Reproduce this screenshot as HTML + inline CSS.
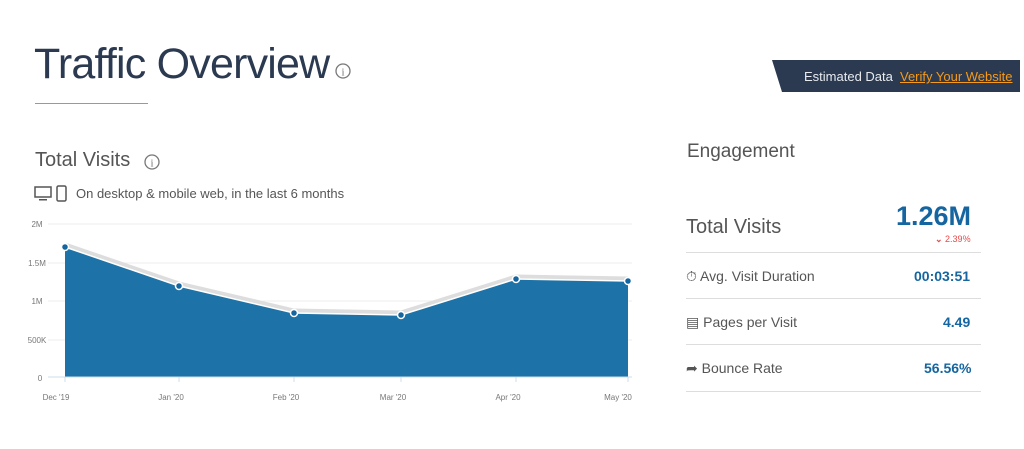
<!DOCTYPE html>
<html><head><style>
body{margin:0;width:1024px;height:449px;background:#fff;font-family:"Liberation Sans",sans-serif;position:relative;overflow:hidden}
.a{position:absolute;white-space:nowrap}
</style></head><body>
<div class="a" style="left:34px;top:40px;font-size:43px;color:#2b3a50;letter-spacing:-0.8px">Traffic Overview</div>
<svg class="a" style="left:334px;top:62px" width="18" height="18"><circle cx="9" cy="9" r="7" fill="none" stroke="#777" stroke-width="1.3"/><text x="9" y="13.5" font-size="11" text-anchor="middle" fill="#777" font-family="Liberation Serif">i</text></svg>
<div class="a" style="left:35px;top:103px;width:113px;height:1px;background:#999"></div>
<svg class="a" style="left:768px;top:58px" width="256" height="38"><polygon points="4,2 252,2 252,34 14,34" fill="#2b3a50"/></svg>
<div class="a" style="left:804px;top:69px;font-size:13px;color:#e8ebef">Estimated Data</div>
<div class="a" style="left:900px;top:69px;font-size:13px;color:#f59a1c;text-decoration:underline">Verify Your Website</div>
<div class="a" style="left:35px;top:149px;font-size:20px;color:#555">Total Visits</div>
<svg class="a" style="left:143px;top:153px" width="18" height="18"><circle cx="9" cy="9" r="7" fill="none" stroke="#777" stroke-width="1.3"/><text x="9" y="13.5" font-size="11" text-anchor="middle" fill="#777" font-family="Liberation Serif">i</text></svg>
<svg class="a" style="left:34px;top:185px" width="36" height="18"><rect x="1" y="2" width="16" height="10" fill="none" stroke="#555" stroke-width="1.5"/><rect x="5" y="14" width="8" height="1.5" fill="#555"/><rect x="23" y="1" width="9" height="15" rx="1.5" fill="none" stroke="#555" stroke-width="1.5"/></svg>
<div class="a" style="left:76px;top:186px;font-size:13px;color:#555">On desktop &amp; mobile web, in the last 6 months</div>
<svg class="a" style="left:0;top:210px" width="660" height="200" font-family="Liberation Sans" font-size="8" fill="#777">
<g stroke="#eee" stroke-width="1"><line x1="48" y1="14" x2="632" y2="14"/><line x1="48" y1="53" x2="632" y2="53"/><line x1="48" y1="91" x2="632" y2="91"/><line x1="48" y1="130" x2="632" y2="130"/></g>
<text x="37" y="17" text-anchor="middle">2M</text><text x="37" y="56" text-anchor="middle">1.5M</text><text x="37" y="94" text-anchor="middle">1M</text><text x="37" y="133" text-anchor="middle">500K</text><text x="40" y="171" text-anchor="middle">0</text>
<polyline points="65,35 179,74 294,101 401,103 516,67 628,69" fill="none" stroke="#ddd" stroke-width="5"/>
<polygon points="65,37 179,76 294,103 401,105 516,69 628,71 628,167 65,167" fill="#1d73a8"/>
<polyline points="65,37 179,76 294,103 401,105 516,69 628,71" fill="none" stroke="#fff" stroke-width="1.5"/>
<g fill="#1565a0" stroke="#fff" stroke-width="1.5"><circle cx="65" cy="37" r="3.5"/><circle cx="179" cy="76" r="3.5"/><circle cx="294" cy="103" r="3.5"/><circle cx="401" cy="105" r="3.5"/><circle cx="516" cy="69" r="3.5"/><circle cx="628" cy="71" r="3.5"/></g>
<line x1="48" y1="167" x2="632" y2="167" stroke="#cde"/>
<g stroke="#cde"><line x1="65" y1="167" x2="65" y2="172"/><line x1="179" y1="167" x2="179" y2="172"/><line x1="294" y1="167" x2="294" y2="172"/><line x1="401" y1="167" x2="401" y2="172"/><line x1="516" y1="167" x2="516" y2="172"/><line x1="628" y1="167" x2="628" y2="172"/></g>
<g text-anchor="middle"><text x="56" y="190">Dec '19</text><text x="171" y="190">Jan '20</text><text x="286" y="190">Feb '20</text><text x="393" y="190">Mar '20</text><text x="508" y="190">Apr '20</text><text x="618" y="190">May '20</text></g>
</svg>
<div class="a" style="left:687px;top:141px;font-size:19px;color:#555">Engagement</div>
<div class="a" style="left:686px;top:216px;font-size:20px;color:#555">Total Visits</div>
<div class="a" style="left:896px;top:201px;font-size:27px;font-weight:bold;color:#1565a0">1.26M</div>
<div class="a" style="left:935px;top:234px;font-size:9px;color:#e84a4a"><span style="font-weight:bold">⌄</span> 2.39%</div>
<div class="a" style="left:686px;top:252px;width:295px;height:1px;background:#ddd"></div>
<div class="a" style="left:686px;top:268px;font-size:14px;color:#555">⏱ Avg. Visit Duration</div>
<div class="a" style="left:914px;top:268px;font-size:14px;font-weight:bold;color:#1565a0">00:03:51</div>
<div class="a" style="left:686px;top:298px;width:295px;height:1px;background:#ddd"></div>
<div class="a" style="left:686px;top:314px;font-size:14px;color:#555">▤ Pages per Visit</div>
<div class="a" style="left:943px;top:314px;font-size:14px;font-weight:bold;color:#1565a0">4.49</div>
<div class="a" style="left:686px;top:344px;width:295px;height:1px;background:#ddd"></div>
<div class="a" style="left:686px;top:360px;font-size:14px;color:#555">➦ Bounce Rate</div>
<div class="a" style="left:924px;top:360px;font-size:14px;font-weight:bold;color:#1565a0">56.56%</div>
<div class="a" style="left:686px;top:391px;width:295px;height:1px;background:#ddd"></div>
</body></html>
